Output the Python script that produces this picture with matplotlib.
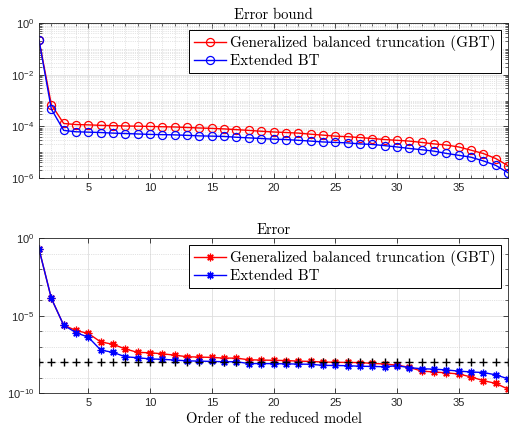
import matplotlib
matplotlib.use('Agg')
import matplotlib.pyplot as plt
import numpy as np
from matplotlib.ticker import FixedLocator, LogLocator, LogFormatterSciNotation, NullFormatter

order = np.arange(1, 40)

# error bound (top)
bound_gbt = [2.2e-1, 7.0e-4, 1.3e-4, 1.18e-4, 1.15e-4, 1.1e-4, 1.07e-4, 1.04e-4, 1.02e-4, 1.0e-4,
             9.7e-5, 9.5e-5, 9.1e-5, 8.7e-5, 8.4e-5, 8.0e-5, 7.5e-5, 7.0e-5, 6.5e-5, 6.1e-5,
             5.8e-5, 5.5e-5, 5.0e-5, 4.6e-5, 4.2e-5, 4.0e-5, 3.7e-5, 3.4e-5, 3.1e-5, 2.9e-5,
             2.7e-5, 2.4e-5, 2.1e-5, 1.9e-5, 1.6e-5, 1.2e-5, 8.9e-6, 5.7e-6, 3.0e-6]
bound_ebt = [2.2e-1, 4.7e-4, 7.0e-5, 6.2e-5, 6.0e-5, 5.8e-5, 5.5e-5, 5.3e-5, 5.1e-5, 4.9e-5,
             4.8e-5, 4.7e-5, 4.5e-5, 4.3e-5, 4.2e-5, 4.1e-5, 3.8e-5, 3.6e-5, 3.4e-5, 3.2e-5,
             3.1e-5, 2.9e-5, 2.7e-5, 2.5e-5, 2.4e-5, 2.3e-5, 2.1e-5, 2.0e-5, 1.8e-5, 1.6e-5,
             1.4e-5, 1.25e-5, 1.1e-5, 9.0e-6, 7.6e-6, 6.4e-6, 4.6e-6, 3.1e-6, 1.6e-6]

# actual error (bottom)
err_gbt = [2.0e-1, 1.3e-4, 2.4e-6, 1.1e-6, 7.0e-7, 2.0e-7, 1.4e-7, 7.0e-8, 4.2e-8, 4.0e-8,
           3.4e-8, 2.8e-8, 2.2e-8, 2.1e-8, 2.0e-8, 1.8e-8, 1.8e-8, 1.4e-8, 1.35e-8, 1.3e-8,
           1.25e-8, 1.15e-8, 1.1e-8, 1.0e-8, 9.7e-9, 9.4e-9, 9.3e-9, 8.2e-9, 7.5e-9, 6.3e-9,
           4.6e-9, 2.6e-9, 2.3e-9, 2.0e-9, 1.7e-9, 1.1e-9, 6.3e-10, 4.2e-10, 1.8e-10]
err_ebt = [2.0e-1, 1.3e-4, 2.4e-6, 8.0e-7, 4.0e-7, 6.0e-8, 4.2e-8, 2.2e-8, 1.9e-8, 1.6e-8,
           1.5e-8, 1.35e-8, 1.2e-8, 1.15e-8, 1.1e-8, 1.05e-8, 1.05e-8, 8.0e-9, 8.0e-9, 7.9e-9,
           7.7e-9, 7.4e-9, 7.2e-9, 6.1e-9, 6.0e-9, 5.8e-9, 5.4e-9, 5.2e-9, 5.0e-9, 5.8e-9,
           4.4e-9, 3.7e-9, 3.5e-9, 3.1e-9, 2.6e-9, 2.3e-9, 2.1e-9, 1.5e-9, 8.3e-10]
tol = [1e-8] * 39

labels = ['Generalized balanced truncation (GBT)', 'Extended BT']

serif = 'cmr10'
tickfont = 'Liberation Sans'
axcol = '0.15'
asterisk = (8, 2, 0)

fig = plt.figure(figsize=(5.2, 4.3), dpi=100)
ax1 = fig.add_axes([0.075, 0.586, 0.902, 0.360])
ax2 = fig.add_axes([0.075, 0.086, 0.902, 0.360])

ax1.semilogy(order, bound_gbt, '-o', color='red', mfc='none', ms=5.8, lw=1, mew=0.9, label=labels[0])
ax1.semilogy(order, bound_ebt, '-o', color='blue', mfc='none', ms=5.8, lw=1, mew=0.9, label=labels[1])

ax2.semilogy(order, err_gbt, '-', marker=asterisk, color='red', ms=5.5, lw=1, mew=0.9, label=labels[0])
ax2.semilogy(order, err_ebt, '-', marker=asterisk, color='blue', ms=5.5, lw=1, mew=0.9, label=labels[1])
ax2.semilogy(order, tol, '+', color='black', ms=6, mew=1)

ax1.set_ylim(1e-6, 1e0)
ax1.yaxis.set_major_locator(FixedLocator([1e-6, 1e-4, 1e-2, 1e0]))
ax1.yaxis.set_minor_locator(LogLocator(base=10, subs=np.arange(1, 10), numticks=100))
ax1.xaxis.set_minor_locator(FixedLocator(order))

ax2.set_ylim(1e-10, 1e0)
ax2.yaxis.set_major_locator(FixedLocator([1e-10, 1e-5, 1e0]))
ax2.yaxis.set_minor_locator(FixedLocator([10.0 ** k for k in range(-10, 1)]))

for ax in (ax1, ax2):
    ax.set_xlim(1, 39)
    ax.set_xticks([5, 10, 15, 20, 25, 30, 35])
    ax.yaxis.set_major_formatter(LogFormatterSciNotation())
    ax.yaxis.set_minor_formatter(NullFormatter())
    ax.tick_params(which='both', direction='in', top=True, right=True, colors=axcol,
                   labelsize=8, labelfontfamily=tickfont, labelcolor='0.15')
    ax.tick_params(which='major', length=3.5, width=0.6)
    ax.tick_params(which='minor', length=2, width=0.5)
    for s in ax.spines.values():
        s.set_color(axcol)
        s.set_linewidth(0.6)
    ax.grid(which='major', color='0.87', lw=0.6, ls='-')
    ax.set_axisbelow(True)
    leg = ax.legend(loc='upper right', prop={'family': serif, 'size': 10.9}, fancybox=False,
                    edgecolor='black', framealpha=1, borderaxespad=0.45, handlelength=2.1,
                    handletextpad=0.3, borderpad=0.35, labelspacing=0.2)
    leg.get_frame().set_linewidth(0.7)

ax1.grid(which='minor', axis='both', color='0.8', lw=0.5, ls=':')
ax2.grid(which='minor', axis='y', color='0.78', lw=0.5, ls=':')

ax1.set_title('Error bound', fontfamily=serif, fontsize=10.5, pad=3)
ax2.set_title('Error', fontfamily=serif, fontsize=10.5, pad=3)
ax2.set_xlabel('Order of the reduced model', fontfamily=serif, fontsize=10.5, labelpad=3)

fig.savefig('out.png', dpi=100)
